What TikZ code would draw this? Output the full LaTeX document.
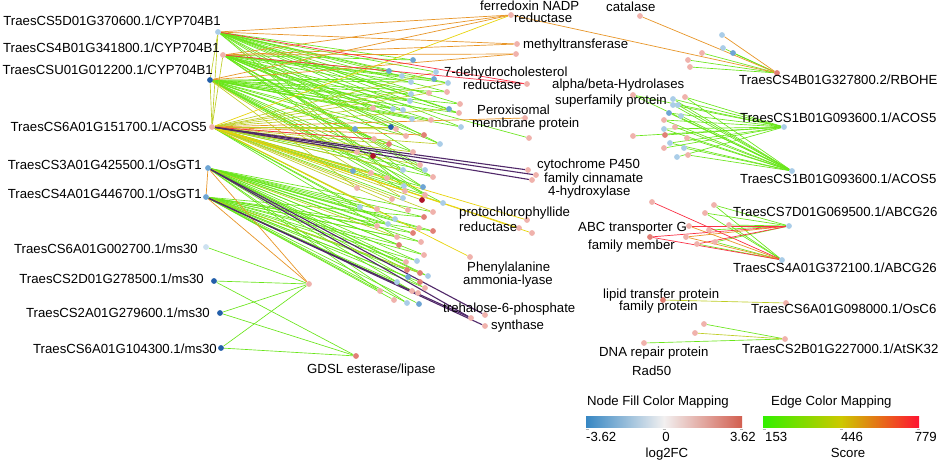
\documentclass[tikz,border=0pt]{standalone}
\usepackage{fontspec}
\setmainfont{Liberation Sans}
\usetikzlibrary{backgrounds}
\definecolor{nlb}{RGB}{170,205,232}
\definecolor{nvlb}{RGB}{205,225,240}
\definecolor{nb}{RGB}{110,165,212}
\definecolor{ndb}{RGB}{35,95,170}
\definecolor{npk}{RGB}{240,178,172}
\definecolor{nsa}{RGB}{225,128,118}
\definecolor{ndr}{RGB}{175,20,40}
\definecolor{cg}{RGB}{105,230,25}
\definecolor{cy}{RGB}{190,205,35}
\definecolor{cy2}{RGB}{232,212,10}
\definecolor{co}{RGB}{232,150,40}
\definecolor{cr}{RGB}{250,50,70}
\definecolor{cp}{RGB}{80,40,105}
\definecolor{lgb}{RGB}{55,135,195}
\definecolor{lgw}{RGB}{242,240,240}
\definecolor{lgr}{RGB}{210,95,80}
\definecolor{leg}{RGB}{50,240,0}
\definecolor{ley}{RGB}{205,200,0}
\definecolor{ler}{RGB}{255,20,50}
\begin{document}
\begin{tikzpicture}[x=1pt,y=-1pt,
  dot/.style={circle,inner sep=0pt,minimum size=5.8pt},
  lbl/.style={font=\fontsize{13.2}{15}\selectfont,inner sep=0pt},
  eg/.style={draw=cg,line width=0.65pt},
  ey/.style={draw=cy,line width=0.65pt},
  eyy/.style={draw=cy2,line width=0.7pt},
  eo/.style={draw=co,line width=0.7pt},
  er/.style={draw=cr,line width=0.7pt},
  ep/.style={draw=cp,line width=1.1pt}]
\useasboundingbox (0,0) rectangle (941,462);
% ---------- nodes (dots) ----------
\foreach \n/\x/\y/\c in {
 H1/218/32/nlb, H2/223/55/npk, H3/210/80/ndb, H4/212/127/npk, H5/208/168/nb, H6/206/197/nb,
 M1/206/247/nvlb, M2/214/281/ndb, M3/220/313/ndb, M4/221/348/ndb, G/309/284/npk, GD/356/356/nsa,
 RB/777/73/nsa, AC1/784/127/nlb, AC2/792/171/nlb, AB1/789/226/nlb, AB2/782/260/nlb, OS/786/303/npk, AT/785/339/npk,
 fer/511/15/npk, met1/517/44/npk, met2/516/54/npk, deh/527/84/npk, per1/525/118/npk, per2/529/138/npk,
 cyt1/528/170/npk, cyt2/536/175/npk, cyt3/532/180/npk, pro1/527/220/npk, pro2/519/228/npk, pro3/532/233/npk,
 phe/470/257/npk, tre1/485/315/npk, tre2/471/318/npk, tre3/485/326/npk, cat/640/16/npk, alp/633/95/npk,
 abc1/652/202/npk, abc2/650/237/nsa, lip/663/300/nsa, dna/644/343/npk,
 a1/413/60/nb, a2/389/71/nb, a3/402/76/nlb, a4/411/82/nlb, a5/436/72/nlb, a6/434/79/nb, a7/448/83/nlb,
 a8/447/92/npk, a9/429/93/npk, a10/411/94/nlb, a11/410/101/nlb, a12/373/108/npk, a13/393/109/nlb,
 a14/403/110/nlb, a15/449/109/nb, a16/412/119/nlb, a17/431/120/npk, a18/460/104/npk, a19/459/113/npk, a20/461/127/nlb,
 b1/355/129/nb, b2/391/127/ndb, b3/396/129/npk, b4/406/136/npk, b5/424/135/nsa, b6/440/144/nlb, b7/374/139/npk,
 b8/389/144/nsa, b9/357/152/npk, b10/373/156/ndr, b11/413/152/npk, b12/420/165/npk, b13/403/170/nlb, b14/425/170/nlb,
 b15/433/177/npk, b16/353/171/nb, b17/371/173/npk, b18/387/178/npk, b19/404/186/nlb, b20/423/187/nb, b21/357/188/npk,
 b22/405/191/npk, b23/425/195/npk, b24/422/200/ndr, b25/403/198/nlb, b26/392/199/npk, b27/443/203/nlb, b28/360/207/nlb,
 b29/377/209/npk, b30/408/210/npk, b31/433/212/npk,
 c1/424/217/nsa, c2/419/228/npk, c3/433/231/nsa, c4/413/233/nsa, c5/421/242/npk, c6/399/245/nsa, c7/395/219/nlb,
 c8/388/224/nlb, c9/377/226/npk, c10/397/237/npk, c11/424/255/npk, c12/417/261/nlb, c13/406/262/npk, c14/407/270/nsa,
 c15/408/277/nb, c16/420/273/nsa, c17/428/276/nlb, c18/420/282/nsa, c19/425/288/npk, c20/397/282/nlb, c21/380/291/npk,
 c22/412/291/npk, c23/418/293/npk, c24/394/300/npk, c25/407/303/nlb, c26/419/304/nb,
 r1/722/35/nlb, r2/723/48/nlb, r3/733/53/nb, r4/702/53/npk, r5/688/60/npk, r6/690/67/npk,
 s1/673/99/nlb, s2/685/97/npk, s3/673/105/nlb, s4/678/105/nlb, s5/669/113/nb, s6/681/116/nlb, s7/664/120/npk,
 s8/675/127/npk, s9/664/129/nlb, s10/665/135/nsa, s11/687/138/npk, s12/633/136/npk, s13/670/143/nlb, s14/684/148/nlb,
 s15/664/148/npk, s16/688/155/npk, s17/677/157/nlb,
 t1/714/205/npk, t2/705/213/npk, t3/689/226/npk, t4/729/225/npk, t5/709/230/npk, t6/686/237/npk, t7/715/242/npk, t8/697/244/npk,
 u1/704/324/npk, u2/695/333/npk}
 \node[dot,fill=\c] (\n) at (\x,\y) {};
% ---------- edges ----------
\begin{scope}[on background layer]
\fill[white] (0,0) rectangle (941,462);
\foreach \a/\b in {
 H1/a1,H1/a2,H1/a3,H1/a5,H1/a7,H1/a8,H1/a10,H1/a11,H1/a14,H1/a15,H1/a18,H1/a20,H1/b4,H1/b6,H1/b11,H1/b13,H1/b19,H1/a19,
 H2/a1,H2/a2,H2/a3,H2/a4,H2/a6,H2/a7,H2/a9,H2/a12,H2/a13,H2/a16,H2/a17,H2/a19,H2/b3,H2/b5,H2/b6,H2/b12,H2/b14,H2/per2,H2/b15,H2/b20,H2/b23,
 H3/a4,H3/a6,H3/a8,H3/a10,H3/a11,H3/a13,H3/a14,H3/a16,H3/a17,H3/a20,H3/b1,H3/b2,H3/b4,H3/b8,H3/b11,H3/b13,H3/b15,H3/b19,H3/b20,H3/b27,H3/b22,H3/b23,H3/a18,H3/a19,
 H4/b14,H4/b15,H4/b19,H4/b20,H4/b23,H4/b27,H4/b28,H4/b25,H4/c7,H4/c8,H4/c10,
 H5/b28,H5/b29,H5/c1,H5/c2,H5/c4,H5/c5,H5/c6,H5/c7,H5/c8,H5/c9,H5/c11,H5/c12,H5/c14,H5/c16,H5/c17,H5/c19,H5/c21,H5/c22,H5/c25,H5/b31,H5/c3,H5/c13,
 H6/c3,H6/c5,H6/c6,H6/c9,H6/c10,H6/c12,H6/c13,H6/c14,H6/c15,H6/c18,H6/c19,H6/c20,H6/c21,H6/c23,H6/c24,H6/c26,H6/c1,H6/c4,H6/c11,H6/c17,H6/c22,H6/c25,
 M1/G,M2/G,M2/GD,M3/G,M3/GD,M4/G,M4/GD,
 RB/r2,RB/r3,RB/r4,RB/r5,RB/r6,
 AC1/alp,AC1/s1,AC1/s2,AC1/s3,AC1/s5,AC1/s7,AC1/s9,AC1/s10,AC1/s12,AC1/s13,AC1/s15,AC1/s17,
 AC2/alp,AC2/s1,AC2/s2,AC2/s3,AC2/s4,AC2/s5,AC2/s6,AC2/s7,AC2/s8,AC2/s9,AC2/s11,AC2/s13,AC2/s14,AC2/s16,
 AB1/t1,AB1/t2,AB1/t4,AB1/t5,AB1/t7,AB2/t1,AB2/t2,AB2/t4,AB2/t7,AB2/t8,
 AT/u1,AT/dna}
 \draw[eg] (\a) -- (\b);
\foreach \a/\b in {
 H1/H3,H1/H4,H2/H4,H3/H4,H4/a12,H4/b1,H4/b2,H4/b3,H4/b8,H4/b9,H4/b10,H4/b12,H4/b13,H4/b16,H4/b17,H4/b18,
 H4/b22,H4/b24,H4/b26,H4/b29,H4/b30,H4/b31,H4/a9,H4/a15,H4/a5,H4/a7,H4/b6,H4/b11,H3/b21,H3/b25,H5/c10,H6/c16,OS/lip,AT/u2}
 \draw[ey] (\a) -- (\b);
\foreach \a/\b in {H4/pro1,H4/pro2,H4/pro3,H4/phe,H4/fer}
 \draw[eyy] (\a) -- (\b);
\foreach \a/\b in {H1/fer,H2/fer,H3/fer,H1/met1,H2/met1,H2/met2,H3/met2,H4/per1,H4/b5,H5/H6,H5/G,H6/G,
 fer/RB,cat/RB,RB/r1,AB1/t6,AB2/t6,AB2/t3}
 \draw[eo] (\a) -- (\b);
\foreach \a/\b in {H1/deh,H2/deh,H4/b7,AB1/abc2,AB1/t3,AB1/t8,AB2/abc1,AB2/abc2}
 \draw[er] (\a) -- (\b);
\foreach \a/\b in {H4/cyt1,H4/cyt2,H4/cyt3,H5/tre1,H5/tre2,H6/tre2,H6/tre3}
 \draw[ep] (\a) -- (\b);
\end{scope}
% ---------- labels ----------
\node[lbl,anchor=base east] (lH1) at (221,26) {TraesCS5D01G370600.1/CYP704B1};
\node[lbl,anchor=base east] (lH2) at (220,53) {TraesCS4B01G341800.1/CYP704B1};
\node[lbl,anchor=base east] (lH3) at (213,75) {TraesCSU01G012200.1/CYP704B1};
\node[lbl,anchor=base east] (lH4) at (207,132) {TraesCS6A01G151700.1/ACOS5};
\node[lbl,anchor=base east] (lH5) at (202,170) {TraesCS3A01G425500.1/OsGT1};
\node[lbl,anchor=base east] (lH6) at (202,199) {TraesCS4A01G446700.1/OsGT1};
\node[lbl,anchor=base east] (lM1) at (198,253) {TraesCS6A01G002700.1/ms30};
\node[lbl,anchor=base east] (lM2) at (204,283) {TraesCS2D01G278500.1/ms30};
\node[lbl,anchor=base east] (lM3) at (210,317) {TraesCS2A01G279600.1/ms30};
\node[lbl,anchor=base east] (lM4) at (217,353) {TraesCS6A01G104300.1/ms30};
\node[lbl,anchor=base west] (lGD) at (307,373) {GDSL esterase/lipase};
\node[lbl,anchor=base west] (lfer1) at (480,11) {ferredoxin NADP};
\node[lbl,anchor=base west] (lfer2) at (514,23) {reductase};
\node[lbl,anchor=base west] (lmet) at (523,49) {methyltransferase};
\node[lbl,anchor=base west] (ldeh1) at (444,77) {7-dehydrocholesterol};
\node[lbl,anchor=base west] (ldeh2) at (463,90) {reductase};
\node[lbl,anchor=base west] (lper1) at (477,115) {Peroxisomal};
\node[lbl,anchor=base west] (lper2) at (472,128) {membrane protein};
\node[lbl,anchor=base west] (lcyt1) at (537,169) {cytochrome P450};
\node[lbl,anchor=base west] (lcyt2) at (544,183) {family cinnamate};
\node[lbl,anchor=base west] (lcyt3) at (548,196) {4-hydroxylase};
\node[lbl,anchor=base west] (lcat) at (606,12) {catalase};
\node[lbl,anchor=base west] (lalp1) at (552,89) {alpha/beta-Hydrolases};
\node[lbl,anchor=base west] (lalp2) at (555,105) {superfamily protein};
\node[lbl,anchor=base west] (lpro1) at (459,217) {protochlorophyllide};
\node[lbl,anchor=base west] (lpro2) at (459,232) {reductase};
\node[lbl,anchor=base west] (lphe1) at (467,271) {Phenylalanine};
\node[lbl,anchor=base west] (lphe2) at (463,284) {ammonia-lyase};
\node[lbl,anchor=base west] (ltre1) at (443,312) {trehalose-6-phosphate};
\node[lbl,anchor=base west] (ltre2) at (491,329) {synthase};
\node[lbl,anchor=base east] (labc1) at (687,232) {ABC transporter G};
\node[lbl,anchor=base west] (labc2) at (588,249) {family member};
\node[lbl,anchor=base west] (llip1) at (603,298) {lipid transfer protein};
\node[lbl,anchor=base west] (llip2) at (619,310) {family protein};
\node[lbl,anchor=base west] (ldna1) at (599,356) {DNA repair protein};
\node[lbl,anchor=base west] (ldna2) at (632,375) {Rad50};
\node[lbl,anchor=base west] (lRB) at (739,85) {TraesCS4B01G327800.2/RBOHE};
\node[lbl,anchor=base west] (lAC1) at (740,123) {TraesCS1B01G093600.1/ACOS5};
\node[lbl,anchor=base west] (lAC2) at (740,184) {TraesCS1B01G093600.1/ACOS5};
\node[lbl,anchor=base west] (lAB1) at (733,217) {TraesCS7D01G069500.1/ABCG26};
\node[lbl,anchor=base west] (lAB2) at (733,272) {TraesCS4A01G372100.1/ABCG26};
\node[lbl,anchor=base west] (lOS) at (751,313) {TraesCS6A01G098000.1/OsC6};
\node[lbl,anchor=base west] (lAT) at (742,353) {TraesCS2B01G227000.1/AtSK32};
% ---------- legend ----------
\node[lbl,anchor=base west] (t1leg) at (587,405) {Node Fill Color Mapping};
\node[lbl,anchor=base west] (t2leg) at (771,405) {Edge Color Mapping};
\shade[left color=lgb,right color=lgr,middle color=lgw] (586,416) rectangle (742,427);
\shade[left color=leg,right color=ler,middle color=ley] (763,416) rectangle (919,427);
\foreach \x in {587,664,741,764,841,918} \draw[gray!60,line width=0.3pt] (\x-1.5,429.5) -- (\x+1.5,429.5);
\node[lbl,anchor=base west] (k1) at (586,441) {-3.62};
\node[lbl,anchor=base] (k2) at (666,441) {0};
\node[lbl,anchor=base east] (k3) at (756,441) {3.62};
\node[lbl,anchor=base] (k4) at (667,457) {log2FC};
\node[lbl,anchor=base west] (k5) at (765,441) {153};
\node[lbl,anchor=base] (k6) at (852,441) {446};
\node[lbl,anchor=base east] (k7) at (937,441) {779};
\node[lbl,anchor=base] (k8) at (848,457) {Score};
\end{tikzpicture}
\end{document}
